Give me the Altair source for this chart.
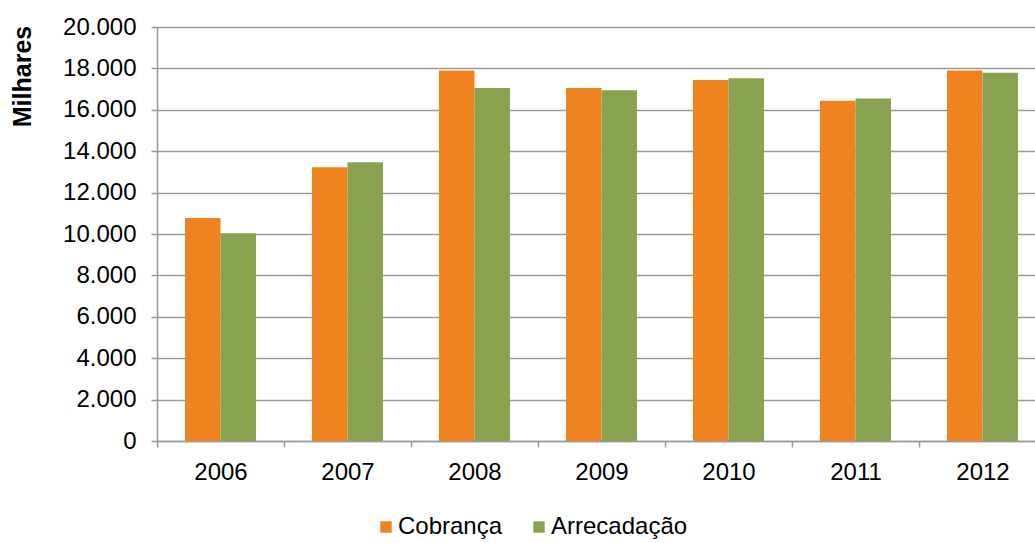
import altair as alt
import pandas as pd

# Annual totals (thousands)
years = ["2006", "2007", "2008", "2009", "2010", "2011", "2012"]
cobranca = [10770, 13230, 17900, 17050, 17440, 16440, 17900]
arrecadacao = [10040, 13470, 17050, 16940, 17530, 16550, 17790]
series_names = ["Cobrança", "Arrecadação"]
series_colors = ["#EE831F", "#88A24F"]
y_ticks = [0, 2000, 4000, 6000, 8000, 10000, 12000, 14000, 16000, 18000, 20000]

rows = []
for i, yr in enumerate(years):
    rows.append({"ano": yr, "serie": series_names[0], "valor": cobranca[i]})
    rows.append({"ano": yr, "serie": series_names[1], "valor": arrecadacao[i]})
df = pd.DataFrame(rows)

FONT = "Liberation Sans"
GRID = "#9a9a9a"
FS = 24

chart = (
    alt.Chart(df)
    .mark_bar()
    .encode(
        x=alt.X(
            "ano:N",
            sort=years,
            scale=alt.Scale(paddingInner=0, paddingOuter=0, range=[0, 889]),
            axis=alt.Axis(
                title=None,
                labelAngle=0,
                labelFont=FONT,
                labelFontSize=FS,
                labelColor="#000000",
                labelPadding=13,
                tickBand="extent",
                tickSize=6,
                tickColor=GRID,
                tickWidth=1.5,
                domainColor=GRID,
                domainWidth=1.5,
                grid=False,
            ),
        ),
        xOffset=alt.XOffset(
            "serie:N",
            sort=series_names,
            scale=alt.Scale(paddingInner=0, paddingOuter=0.79),
        ),
        y=alt.Y(
            "valor:Q",
            scale=alt.Scale(domain=[0, 20000], nice=False),
            axis=alt.Axis(
                title="Milhares",
                titleFont=FONT,
                titleFontSize=25,
                titleFontWeight="bold",
                titleColor="#000000",
                titleX=-135,
                titleY=49,
                titleAngle=270,
                titleAlign="center",
                titleBaseline="middle",
                values=y_ticks,
                labelExpr="replace(format(datum.value, ',d'), ',', '.')",
                labelFont=FONT,
                labelFontSize=FS,
                labelColor="#000000",
                labelPadding=15,
                tickSize=6,
                tickColor=GRID,
                tickWidth=1.5,
                domainColor=GRID,
                domainWidth=1.5,
                grid=True,
                gridColor=GRID,
                gridWidth=1.5,
                gridOpacity=1,
            ),
        ),
        color=alt.Color(
            "serie:N",
            sort=series_names,
            scale=alt.Scale(domain=series_names, range=series_colors),
            legend=alt.Legend(
                title=None,
                orient="none",
                direction="horizontal",
                legendX=217,
                legendY=488,
                symbolType="square",
                symbolSize=130,
                symbolStrokeWidth=0,
                symbolOpacity=1,
                labelFont=FONT,
                labelFontSize=FS,
                labelColor="#000000",
                labelOffset=0,
                columnPadding=24,
            ),
        ),
    )
    .properties(
        width=878,
        height=414,
        padding={"left": 157, "top": 27, "right": 0, "bottom": 100},
        autosize=alt.AutoSizeParams(type="none"),
    )
    .configure_view(stroke=None)
    .configure_axis(ticks=True)
)

chart.save("out.html", embed_options={"renderer": "svg", "actions": False})
